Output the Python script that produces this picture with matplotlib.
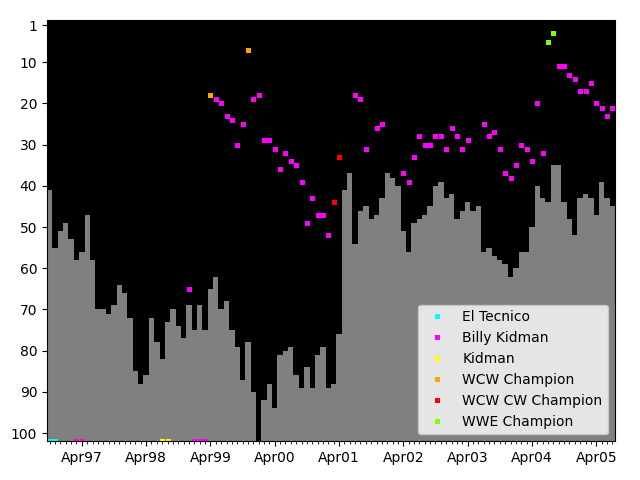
# -*- coding: utf-8 -*-

import numpy as np
import pandas as pd
import matplotlib
matplotlib.use('Agg')
import matplotlib.pyplot as plt
from matplotlib.ticker import MultipleLocator

#Meses del grafico (Oct 1996 - Jul 2005)
meses = pd.date_range('1996-10-01', '2005-07-01', freq='MS')

#Ranking de las barras (None = sin dato)
barras = [41, 55, 51, 49, 53, 58, 56, 47, 58, 70,
          70, 71, 69, 64, 66, 72, 85, 88, 86, 72,
          78, 82, 73, 70, 74, 77, 69, 75, 69, 75,
          65, 62, 70, 68, 75, 79, 87, 78, 90, None,
          92, 88, 94, 81, 80, 79, 86, 89, 84, 89,
          81, 79, 89, 88, 76, 41, 37, 54, 46, 45,
          48, 47, 43, 37, 38, 40, 51, 56, 49, 48,
          47, 45, 40, 39, 43, 42, 48, 46, 44, 46,
          45, 56, 55, 57, 58, 59, 62, 60, 56, 56,
          50, 40, 43, 44, 35, 35, 44, 48, 52, 43,
          42, 43, 47, 39, 43, 45]

#Puntos de cada nombre: mes y posicion
tecnico_fechas = ['1996-10', '1996-11']
tecnico_pos = [102, 102]

billy_fechas = ['1997-03', '1997-04', '1998-12', '1999-01', '1999-02', '1999-03',
                '1999-05', '1999-06', '1999-07', '1999-08', '1999-09', '1999-10',
                '1999-12', '2000-01', '2000-02', '2000-03', '2000-04', '2000-05',
                '2000-06', '2000-07', '2000-08', '2000-09', '2000-10', '2000-11',
                '2000-12', '2001-01', '2001-02',
                '2001-07', '2001-08', '2001-09', '2001-11', '2001-12',
                '2002-04', '2002-05', '2002-06', '2002-07', '2002-08', '2002-09',
                '2002-10', '2002-11', '2002-12', '2003-01', '2003-02', '2003-03',
                '2003-04',
                '2003-07', '2003-08', '2003-09', '2003-10', '2003-11', '2003-12',
                '2004-01', '2004-02', '2004-03', '2004-04', '2004-05', '2004-06',
                '2004-09', '2004-10', '2004-11', '2004-12', '2005-01', '2005-02',
                '2005-03', '2005-04', '2005-05', '2005-06', '2005-07']
billy_pos = [102, 102, 65, 102, 102, 102,
             19, 20, 23, 24, 30, 25,
             19, 18, 29, 29, 31, 36,
             32, 34, 35, 39, 49, 43,
             47, 47, 52,
             18, 19, 31, 26, 25,
             37, 39, 33, 28, 30, 30,
             28, 28, 31, 26, 28, 31,
             29,
             25, 28, 27, 31, 37, 38,
             35, 30, 31, 34, 20, 32,
             11, 11, 13, 14, 17, 17,
             15, 20, 21, 23, 21]

kidman_fechas = ['1998-07', '1998-08']
kidman_pos = [102, 102]

wcw_fechas = ['1999-04', '1999-11']
wcw_pos = [18, 7]

wcwcw_fechas = ['2001-03', '2001-04']
wcwcw_pos = [44, 33]

wwe_fechas = ['2004-07', '2004-08']
wwe_pos = [5, 3]

#====================================================================================================
#Indices de mes para el eje x

def indice(fechas):
    return [meses.get_loc(pd.Timestamp(f + '-01')) for f in fechas]

x = np.arange(len(meses))
alto = np.array([np.nan if b is None else b for b in barras], dtype=float)

fig = plt.figure(figsize=(6.4, 4.8), dpi=100)
ax = fig.add_subplot(111)
fig.subplots_adjust(left=47/640, right=615/640, top=1-19.7/480, bottom=1-441.4/480)
ax.set_facecolor('black')

ax.bar(x, 102 - alto, bottom=alto, width=1.0, color='gray', linewidth=0)

series = [(tecnico_fechas, tecnico_pos, 'cyan', 'El Tecnico'),
          (billy_fechas, billy_pos, 'magenta', 'Billy Kidman'),
          (kidman_fechas, kidman_pos, 'yellow', 'Kidman'),
          (wcw_fechas, wcw_pos, 'orange', 'WCW Champion'),
          (wcwcw_fechas, wcwcw_pos, 'red', 'WCW CW Champion'),
          (wwe_fechas, wwe_pos, 'chartreuse', 'WWE Champion')]

for fechas, pos, color, nombre in series:
    ax.plot(indice(fechas), pos, 's', color=color, ms=3.6, mew=0, label=nombre)

ax.set_ylim(102, -0.3)
ax.set_xlim(-0.5, len(meses) - 0.5)
ax.set_yticks([1] + list(range(10, 101, 10)))

abriles = [i for i, m in enumerate(meses) if m.month == 4]
ax.set_xticks(abriles)
ax.set_xticklabels([meses[i].strftime('Apr%y') for i in abriles])
ax.xaxis.set_minor_locator(MultipleLocator(1))

ax.legend(loc='lower right', numpoints=1)

plt.savefig('out.png')
